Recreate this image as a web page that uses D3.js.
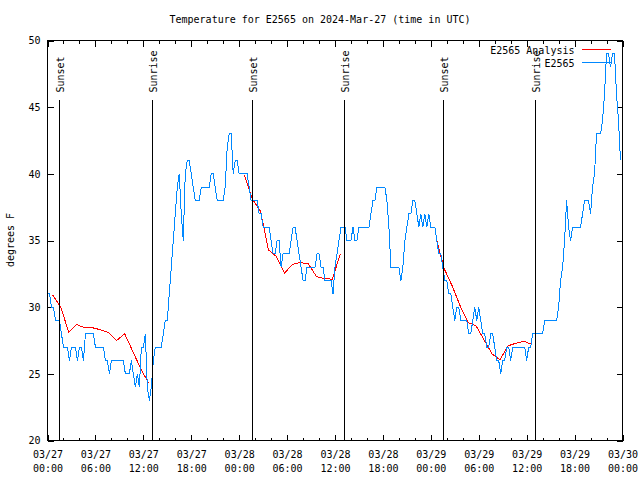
<!DOCTYPE html>
<html>
<head>
<meta charset="utf-8">
<script src="https://cdn.jsdelivr.net/npm/d3@7"></script>
<style>
  body { margin: 0; background: #fff; }
  text { font-family: "DejaVu Sans Mono", monospace; font-size: 10px; fill: #000; }
</style>
</head>
<body>
<div id="chart"></div>
<script>
// chart texts
const title = "Temperature for E2565 on 2024-Mar-27 (time in UTC)";
const yLabel = "degrees F";
const seriesNames = ["E2565 Analysis", "E2565"];
const yTicks = [20, 25, 30, 35, 40, 45, 50];

// time axis
const startTime = "2024-03-27T00:00Z";
const endTime = "2024-03-30T00:00Z";
const stepMinutes = 15;

// station readings (deg F), one every 15 min from startTime
const e2565 = [
  31,31,30,30,29,29,29,28,27,27, 27,26,27,27,27,26,27,27,26,28,
  28,28,28,28,27,27,27,27,27,26, 26,25,26,26,26,26,26,26,26,25,
  25,25,26,25,24,25,24,27,27,28, 24,23,24,26,27,27,27,27,28,29,
  29,31,33,35,37,39,40,37,35,40, 41,41,40,39,38,38,38,39,39,39,
  39,39,40,40,39,38,38,38,38,39, 42,43,43,40,41,41,40,40,40,40,
  40,39,38,38,38,38,37,37,36,36, 36,36,35,34,34,35,35,33,34,34,
  34,34,35,36,36,35,34,33,32,32, 33,33,33,33,33,34,34,33,33,32,
  32,32,32,31,33,34,35,36,36,36, 35,35,35,36,35,35,36,36,36,36,
  36,36,37,38,38,39,39,39,39,39, 38,36,33,33,33,33,33,32,33,35,
  36,37,37,38,38,37,36,37,36,37, 36,37,36,36,36,35,34,34,33,32,
  32,31,31,30,29,30,30,29,29,29, 29,28,28,29,30,29,30,29,28,28,
  27,27,28,28,27,26,26,25,26,26, 27,27,26,27,27,27,27,27,27,27,
  26,27,27,28,28,28,28,28,28,29, 29,29,29,29,29,29,30,32,33,35,
  38,36,35,36,36,36,36,36,37,38, 38,38,37,39,40,43,43,43,44,46,
  49,49,48,49,49,46,44,41
];

// analysis, hourly, only over the nights
const analysisStarts = ["2024-03-27T00:40Z", "2024-03-28T00:40Z", "2024-03-29T00:40Z"];
const analysisNight1 = [30.9, 30.0, 28.1, 28.7, 28.45, 28.45, 28.3, 28.1, 27.5, 28.0, 26.7, 25.4, 24.3];
const analysisNight2 = [39.9, 38.1, 37.2, 34.3, 33.8, 32.55, 33.2, 33.35, 33.25, 32.3, 32.15, 32.1, 34.0];
const analysisNight3 = [35.2, 32.9, 31.6, 30.1, 28.85, 28.6, 27.55, 26.5, 26.05, 27.1, 27.3, 27.45, 27.2];

// sun events
const sunsets = ["2024-03-27T01:33Z", "2024-03-28T01:37Z", "2024-03-29T01:37Z"];
const sunrises = ["2024-03-27T13:11Z", "2024-03-28T13:13Z", "2024-03-29T13:09Z"];

const setup = { width: 640, height: 480, left: 47, right: 622, top: 40, bottom: 440 };
const red = "#ff0000", blue = "#0088ff";

const svg = d3.select("#chart").append("svg")
  .attr("width", setup.width)
  .attr("height", setup.height);

const g = svg.append("g").attr("transform", "translate(0.5,0.5)");

const xscale = d3.scaleUtc()
  .domain([new Date(startTime), new Date(endTime)])
  .range([setup.left, setup.right]);

const yscale = d3.scaleLinear()
  .domain([20, 50])
  .range([setup.bottom, setup.top]);

// axes (ticks pointing inwards, mirrored)
const major = d3.utcHour.every(6).range(new Date(startTime), new Date(Date.parse(endTime) + 1));
const minor = d3.utcHour.every(2).range(new Date(startTime), new Date(Date.parse(endTime) + 1));
const fmtDay = d3.utcFormat("%m/%d"), fmtHour = d3.utcFormat("%H:%M");

const xAxis = g.append("g")
  .attr("transform", `translate(0,${setup.bottom})`)
  .call(d3.axisBottom(xscale).tickValues(major).tickSizeInner(-6).tickSizeOuter(0).tickPadding(10));
xAxis.selectAll(".tick text").each(function(d) {
  const t = d3.select(this).text(null).attr("dy", null);
  t.append("tspan").attr("x", 0).attr("dy", "0.71em").text(fmtDay(d));
  t.append("tspan").attr("x", 0).attr("dy", "14").text(fmtHour(d));
});
g.append("g")
  .attr("transform", `translate(0,${setup.bottom})`)
  .call(d3.axisBottom(xscale).tickValues(minor).tickSizeInner(-3).tickSizeOuter(0).tickFormat(""));
g.append("g")
  .attr("transform", `translate(0,${setup.top})`)
  .call(d3.axisTop(xscale).tickValues(major).tickSizeInner(-6).tickSizeOuter(0).tickFormat(""));
g.append("g")
  .attr("transform", `translate(0,${setup.top})`)
  .call(d3.axisTop(xscale).tickValues(minor).tickSizeInner(-3).tickSizeOuter(0).tickFormat(""));

g.append("g")
  .attr("transform", `translate(${setup.left},0)`)
  .call(d3.axisLeft(yscale).tickValues(yTicks).tickSizeInner(-6).tickSizeOuter(0).tickPadding(7));
g.append("g")
  .attr("transform", `translate(${setup.right},0)`)
  .call(d3.axisRight(yscale).tickValues(yTicks).tickSizeInner(-6).tickSizeOuter(0).tickFormat(""));

g.selectAll(".domain").remove();
g.selectAll(".tick line").attr("stroke", "#000").attr("shape-rendering", "crispEdges");
g.selectAll(".tick text").attr("font-family", null).attr("font-size", null);
g.selectAll(".tick").filter(function() { return this.parentNode.getAttribute("font-family"); })
  .each(function() {});
g.selectAll("g").attr("font-family", null).attr("font-size", null);

// border
g.append("rect")
  .attr("x", setup.left).attr("y", setup.top)
  .attr("width", setup.right - setup.left).attr("height", setup.bottom - setup.top)
  .attr("fill", "none").attr("stroke", "#000")
  .attr("shape-rendering", "crispEdges");

// data lines
const step = stepMinutes * 60000;
const t0 = Date.parse(startTime);
const blueData = e2565.map((v, i) => ({ t: new Date(t0 + i * step), v }));

const nights = [analysisNight1, analysisNight2, analysisNight3];
const redData = nights.map((vals, n) =>
  vals.map((v, i) => ({ t: new Date(Date.parse(analysisStarts[n]) + i * 3600000), v })));

const linea = d3.line()
  .x(d => xscale(d.t))
  .y(d => yscale(d.v));

g.append("g").selectAll("path")
  .data(redData)
  .enter().append("path")
    .attr("d", linea)
    .attr("fill", "none")
    .attr("stroke", red)
    .attr("stroke-width", 1)
    .attr("shape-rendering", "crispEdges");

g.append("path")
  .datum(blueData)
  .attr("d", linea)
  .attr("fill", "none")
  .attr("stroke", blue)
  .attr("stroke-width", 1)
  .attr("shape-rendering", "crispEdges");

// sunset / sunrise markers
const events = sunsets.map(s => ({ t: new Date(s), label: "Sunset" }))
  .concat(sunrises.map(s => ({ t: new Date(s), label: "Sunrise" })));

const sun = g.append("g").selectAll("g")
  .data(events)
  .enter().append("g")
    .attr("transform", d => `translate(${Math.round(xscale(d.t))},0)`);
sun.append("line")
  .attr("y1", 99).attr("y2", setup.bottom)
  .attr("stroke", "#000")
  .attr("shape-rendering", "crispEdges");
sun.append("text")
  .attr("transform", "translate(4,92) rotate(-90)")
  .text(d => d.label);

// legend
const legend = g.append("g").attr("class", "legend");
legend.selectAll("text")
  .data(seriesNames)
  .enter().append("text")
    .attr("x", 574)
    .attr("y", (d, i) => 53 + i * 13)
    .attr("text-anchor", "end")
    .text(d => d);
legend.selectAll("line")
  .data([red, blue])
  .enter().append("line")
    .attr("x1", 581).attr("x2", 610)
    .attr("y1", (d, i) => 49 + i * 13)
    .attr("y2", (d, i) => 49 + i * 13)
    .attr("stroke", d => d)
    .attr("shape-rendering", "crispEdges");

// title and y label
svg.append("text")
  .attr("x", 320).attr("y", 23)
  .attr("text-anchor", "middle")
  .text(title);

svg.append("text")
  .attr("transform", "translate(14,240) rotate(-90)")
  .attr("text-anchor", "middle")
  .text(yLabel);
</script>
</body>
</html>
